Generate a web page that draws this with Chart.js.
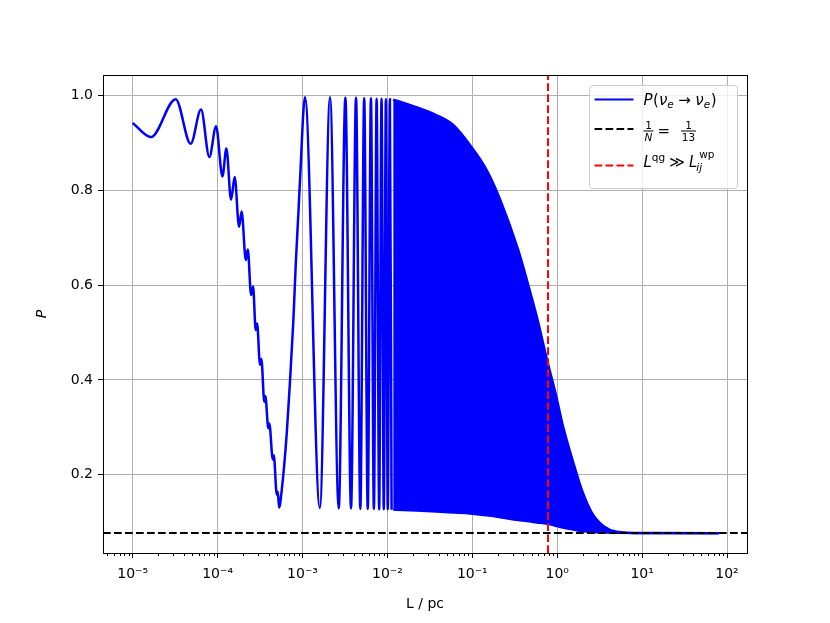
<!DOCTYPE html>
<html>
<head>
<meta charset="utf-8">
<script src="https://cdn.jsdelivr.net/npm/chart.js@4.4.1/dist/chart.umd.min.js"></script>
<style>
    html, body { margin: 0; padding: 0; background: #ffffff; }
    #wrap { width: 830px; height: 623px; }
</style>
</head>
<body>
<div id="wrap"><canvas id="chart" width="830" height="623"></canvas></div>
<script>
// Curva P(ve -> ve): extremos (L en pc)
const curveL = [
    1.0e-5, 1.64e-5, 3.21e-5, 4.82e-5, 6.38e-5, 8.0e-5, 9.6e-5, 1.14e-4, 1.27e-4, 1.44e-4,
    1.59e-4, 1.79e-4, 1.92e-4, 2.15e-4, 2.27e-4, 2.48e-4, 2.62e-4, 2.81e-4, 2.92e-4, 3.16e-4,
    3.28e-4, 3.55e-4, 3.65e-4, 3.96e-4, 4.07e-4, 4.47e-4, 4.59e-4, 4.98e-4, 5.12e-4, 5.30e-4,
    5.70e-4, 6.53e-4, 7.14e-4, 7.81e-4, 8.34e-4, 8.94e-4, 9.35e-4, 1.07e-3, 1.60e-3, 2.11e-3,
    2.67e-3, 3.20e-3, 3.73e-3, 4.27e-3, 4.80e-3, 5.33e-3, 5.87e-3, 6.40e-3, 6.93e-3, 7.47e-3,
    8.00e-3, 8.53e-3, 9.07e-3, 9.60e-3, 1.01e-2, 1.07e-2, 1.12e-2
];
const curveP = [
    0.942, 0.912, 0.992, 0.898, 0.970, 0.870, 0.935, 0.829, 0.888, 0.780,
    0.828, 0.723, 0.755, 0.653, 0.675, 0.579, 0.597, 0.505, 0.519, 0.432,
    0.444, 0.354, 0.366, 0.298, 0.308, 0.232, 0.241, 0.158, 0.164, 0.131,
    0.168, 0.288, 0.400, 0.526, 0.646, 0.751, 0.821, 0.996, 0.130, 0.996,
    0.129, 0.995, 0.129, 0.995, 0.128, 0.994, 0.128, 0.994, 0.128, 0.993,
    0.127, 0.993, 0.127, 0.992, 0.127, 0.992, 0.126
];

// Zona densa de oscilaciones: envolvente superior e inferior
const bandL = [1.17e-2, 1.55e-2, 3.8e-2, 6.0e-2, 9.4e-2, 0.148, 0.214, 0.347, 0.437, 0.575,
    0.759, 0.955, 1.17, 1.55, 1.95, 2.57, 3.55, 5.0, 10, 80];
const bandUpper = [0.991, 0.984, 0.958, 0.937, 0.895, 0.842, 0.779, 0.674, 0.612, 0.533,
    0.442, 0.372, 0.302, 0.225, 0.168, 0.119, 0.091, 0.080, 0.077, 0.0769];
const bandLower = [0.126, 0.125, 0.122, 0.120, 0.118, 0.114, 0.110, 0.104, 0.102, 0.099,
    0.096, 0.092, 0.088, 0.084, 0.081, 0.079, 0.078, 0.077, 0.0769, 0.0769];

// Líneas de referencia
const invN = 1 / 13;
const lqgL = 0.78;

// Ejes
const xTickExps = [-5, -4, -3, -2, -1, 0, 1, 2];
const yTicks = [0.2, 0.4, 0.6, 0.8, 1.0];
const X_MIN = 4.47e-6, X_MAX = 172;
const Y_MIN = 0.035, Y_MAX = 1.043;

const SUP = { '-': '\u207B', '0': '\u2070', '1': '\u00B9', '2': '\u00B2', '3': '\u00B3',
    '4': '\u2074', '5': '\u2075', '6': '\u2076', '7': '\u2077', '8': '\u2078', '9': '\u2079' };
const FONT = '"DejaVu Sans"';

function toPoints(xs, ys) {
    return xs.map((x, i) => ({ x: x, y: ys[i] }));
}

// Dibuja texto con partes en cursiva, subíndices y superíndices
function drawRuns(ctx, x, y, runs) {
    runs.forEach(r => {
        const size = r.size || 15;
        ctx.font = (r.italic ? 'italic ' : '') + size + 'px ' + FONT;
        x += (r.dx || 0);
        ctx.fillText(r.t, x, y + (r.dy || 0));
        x += ctx.measureText(r.t).width + (r.after || 0);
    });
    return x;
}

// Marco, marcas menores y leyenda
const extrasPlugin = {
    id: 'extras',
    afterDraw(chart) {
        const { ctx, chartArea } = chart;
        const xs = chart.scales.x;
        ctx.save();

        // marcas menores del eje logarítmico
        ctx.strokeStyle = '#000000';
        ctx.lineWidth = 1;
        for (let e = -6; e <= 2; e++) {
            for (let m = 2; m <= 9; m++) {
                const v = m * Math.pow(10, e);
                if (v < X_MIN || v > X_MAX) continue;
                const px = Math.round(xs.getPixelForValue(v)) + 0.5;
                ctx.beginPath();
                ctx.moveTo(px, chartArea.bottom);
                ctx.lineTo(px, chartArea.bottom + 3);
                ctx.stroke();
            }
        }

        // marco
        ctx.strokeRect(Math.round(chartArea.left) + 0.5, Math.round(chartArea.top) + 0.5,
            Math.round(chartArea.right - chartArea.left), Math.round(chartArea.bottom - chartArea.top));

        // leyenda
        const w = 148, h = 103;
        const x0 = Math.round(chartArea.right) - 10 - w + 0.5;
        const y0 = Math.round(chartArea.top) + 10 + 0.5;
        const r = 3;
        ctx.beginPath();
        ctx.moveTo(x0 + r, y0);
        ctx.lineTo(x0 + w - r, y0);
        ctx.quadraticCurveTo(x0 + w, y0, x0 + w, y0 + r);
        ctx.lineTo(x0 + w, y0 + h - r);
        ctx.quadraticCurveTo(x0 + w, y0 + h, x0 + w - r, y0 + h);
        ctx.lineTo(x0 + r, y0 + h);
        ctx.quadraticCurveTo(x0, y0 + h, x0, y0 + h - r);
        ctx.lineTo(x0, y0 + r);
        ctx.quadraticCurveTo(x0, y0, x0 + r, y0);
        ctx.closePath();
        ctx.fillStyle = 'rgba(255,255,255,0.8)';
        ctx.fill();
        ctx.strokeStyle = '#cccccc';
        ctx.stroke();

        const hx1 = x0 + 5, hx2 = x0 + 44;
        const rows = [y0 + 14, y0 + 43.5, y0 + 80];
        const handles = [['#0000ff', []], ['#000000', [7.7, 3.3]], ['#ff0000', [7.7, 3.3]]];
        handles.forEach((hd, i) => {
            ctx.beginPath();
            ctx.setLineDash(hd[1]);
            ctx.strokeStyle = hd[0];
            ctx.lineWidth = 2;
            ctx.moveTo(hx1, rows[i]);
            ctx.lineTo(hx2, rows[i]);
            ctx.stroke();
        });
        ctx.setLineDash([]);

        ctx.fillStyle = '#000000';
        ctx.textBaseline = 'alphabetic';
        ctx.textAlign = 'left';
        const tx = x0 + 54;

        // P(ν_e → ν_e)
        drawRuns(ctx, tx, rows[0] + 5.5, [
            { t: 'P', italic: true, after: 0.5 }, { t: '(' }, { t: 'ν', italic: true },
            { t: 'e', italic: true, size: 10.5, dy: 3 }, { t: '→', dx: 4.5, after: 4.5 },
            { t: 'ν', italic: true }, { t: 'e', italic: true, size: 10.5, dy: 3 }, { t: ')', dx: 0.5 }
        ]);

        // 1/N = 1/13
        const axisY = rows[1] + 2;
        ctx.textAlign = 'center';
        ctx.font = '10.5px ' + FONT;
        ctx.fillText('1', tx + 5, axisY - 2.5);
        ctx.font = 'italic 10.5px ' + FONT;
        ctx.fillText('N', tx + 5, axisY + 10);
        ctx.font = '10.5px ' + FONT;
        ctx.fillText('1', tx + 45, axisY - 2.5);
        ctx.fillText('13', tx + 45, axisY + 10);
        ctx.fillRect(tx, axisY - 0.5, 10, 1);
        ctx.fillRect(tx + 37.5, axisY - 0.5, 15, 1);
        ctx.textAlign = 'left';
        ctx.font = '15px ' + FONT;
        ctx.fillText('=', tx + 14, axisY + 5);

        // L^qg ≫ L_ij^wp
        const by = rows[2] + 1.5;
        let cx = drawRuns(ctx, tx, by, [{ t: 'L', italic: true }]);
        cx = drawRuns(ctx, cx, by, [{ t: 'qg', size: 10.5, dy: -6.5 }, { t: '≫', dx: 4, after: 4 }]);
        cx = drawRuns(ctx, cx, by, [{ t: 'L', italic: true }]);
        drawRuns(ctx, cx - 1, by, [{ t: 'ij', italic: true, size: 10.5, dy: 4 }]);
        drawRuns(ctx, cx + 2, by, [{ t: 'wp', size: 10.5, dy: -9 }]);

        ctx.restore();
    }
};

// Función para crear el gráfico
function drawChart() {
    const ctx = document.getElementById('chart').getContext('2d');
    Chart.defaults.font.family = FONT;
    Chart.defaults.font.size = 14;
    Chart.defaults.color = '#000000';

    window.myChart = new Chart(ctx, {
        type: 'line',
        data: {
            datasets: [
                {
                    label: 'L^qg ≫ L_ij^wp',
                    data: [{ x: lqgL, y: Y_MIN }, { x: lqgL, y: Y_MAX }],
                    borderColor: '#ff0000',
                    borderWidth: 2,
                    borderDash: [7.7, 3.3],
                    pointRadius: 0,
                    fill: false
                },
                {
                    label: '1/N = 1/13',
                    data: [{ x: X_MIN, y: invN }, { x: X_MAX, y: invN }],
                    borderColor: '#000000',
                    borderWidth: 2,
                    borderDash: [7.7, 3.3],
                    pointRadius: 0,
                    fill: false
                },
                {
                    label: 'P(νe → νe)',
                    data: toPoints(curveL, curveP),
                    borderColor: '#0000ff',
                    borderWidth: 2.5,
                    cubicInterpolationMode: 'monotone',
                    pointRadius: 0,
                    fill: false
                },
                {
                    label: 'envolvente superior',
                    data: toPoints(bandL, bandUpper),
                    borderColor: '#0000ff',
                    backgroundColor: '#0000ff',
                    borderWidth: 2.5,
                    cubicInterpolationMode: 'monotone',
                    pointRadius: 0,
                    fill: '+1'
                },
                {
                    label: 'envolvente inferior',
                    data: toPoints(bandL, bandLower),
                    borderColor: '#0000ff',
                    borderWidth: 2,
                    cubicInterpolationMode: 'monotone',
                    pointRadius: 0,
                    fill: false
                }
            ]
        },
        options: {
            responsive: false,
            animation: false,
            devicePixelRatio: 1,
            layout: { padding: { left: 0, top: 75, right: 83, bottom: 0 } },
            plugins: {
                legend: { display: false },
                tooltip: { enabled: false }
            },
            scales: {
                x: {
                    type: 'logarithmic',
                    min: X_MIN,
                    max: X_MAX,
                    afterBuildTicks: scale => {
                        scale.ticks = xTickExps.map(e => ({ value: Math.pow(10, e) }));
                    },
                    afterFit: scale => { scale.height = 70; },
                    ticks: {
                        autoSkip: false,
                        maxRotation: 0,
                        padding: 8,
                        font: { size: 14 },
                        callback: value => {
                            const e = String(Math.round(Math.log10(value)));
                            return '10' + e.split('').map(c => SUP[c]).join('');
                        }
                    },
                    grid: { color: '#b0b0b0', lineWidth: 1, tickColor: '#000000', tickLength: 5 },
                    border: { display: false },
                    title: {
                        display: true,
                        text: 'L / pc',
                        font: { size: 14 },
                        padding: { top: 0, bottom: 10 }
                    }
                },
                y: {
                    type: 'linear',
                    min: Y_MIN,
                    max: Y_MAX,
                    afterBuildTicks: scale => {
                        scale.ticks = yTicks.map(v => ({ value: v }));
                    },
                    afterFit: scale => { scale.width = 103; },
                    ticks: {
                        padding: 5,
                        font: { size: 14 },
                        callback: value => value.toFixed(1)
                    },
                    grid: { color: '#b0b0b0', lineWidth: 1, tickColor: '#000000', tickLength: 5 },
                    border: { display: false },
                    title: {
                        display: true,
                        text: 'P',
                        font: { size: 14, style: 'italic' },
                        padding: { top: 34, bottom: 0 }
                    }
                }
            }
        },
        plugins: [extrasPlugin]
    });
}

drawChart();
</script>
</body>
</html>
